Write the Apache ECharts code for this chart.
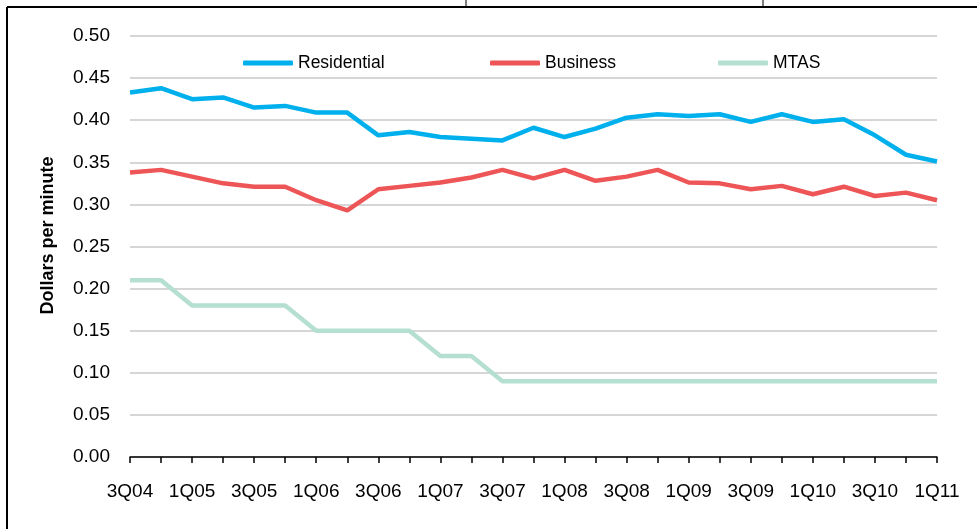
<!DOCTYPE html>
<html>
<head>
<meta charset="utf-8">
<script src="https://cdn.jsdelivr.net/npm/echarts@6/dist/echarts.min.js"></script>
<style>
  html, body { margin: 0; padding: 0; background: #fff; }
  #chart { width: 977px; height: 529px; }
</style>
</head>
<body>
<div id="chart"></div>
<script>
// quarters 3Q04 .. 1Q11
const quarters = [
  '3Q04', '4Q04', '1Q05', '2Q05', '3Q05', '4Q05', '1Q06', '2Q06', '3Q06',
  '4Q06', '1Q07', '2Q07', '3Q07', '4Q07', '1Q08', '2Q08', '3Q08', '4Q08',
  '1Q09', '2Q09', '3Q09', '4Q09', '1Q10', '2Q10', '3Q10', '4Q10', '1Q11'
];

const residential = [
  0.433, 0.438, 0.425, 0.427, 0.415, 0.417, 0.409, 0.409, 0.382,
  0.386, 0.380, 0.378, 0.376, 0.391, 0.380, 0.390, 0.403, 0.407,
  0.405, 0.407, 0.398, 0.407, 0.398, 0.401, 0.382, 0.359, 0.351
];

const business = [
  0.338, 0.341, 0.333, 0.325, 0.321, 0.321, 0.305, 0.293, 0.318,
  0.322, 0.326, 0.332, 0.341, 0.331, 0.341, 0.328, 0.333, 0.341,
  0.326, 0.325, 0.318, 0.322, 0.312, 0.321, 0.310, 0.314, 0.305
];

const mtas = [
  0.21, 0.21, 0.18, 0.18, 0.18, 0.18, 0.15, 0.15, 0.15,
  0.15, 0.12, 0.12, 0.09, 0.09, 0.09, 0.09, 0.09, 0.09,
  0.09, 0.09, 0.09, 0.09, 0.09, 0.09, 0.09, 0.09, 0.09
];

const chart = echarts.init(document.getElementById('chart'));

const font = 'Arial, "Liberation Sans", sans-serif';

function legendAt(name, left) {
  return {
    data: [name],
    left: left,
    top: 54,
    padding: 0,
    icon: 'roundRect',
    itemWidth: 50,
    itemHeight: 5,
    itemGap: 0,
    textStyle: { fontFamily: font, fontSize: 17.5, color: '#000' }
  };
}

chart.setOption({
  animation: false,
  backgroundColor: '#fff',
  // frame of the surrounding figure
  graphic: [
    { type: 'line', shape: { x1: 7, y1: 7, x2: 977, y2: 7 }, style: { stroke: '#000', lineWidth: 2 } },
    { type: 'line', shape: { x1: 7, y1: 7, x2: 7, y2: 529 }, style: { stroke: '#000', lineWidth: 2 } },
    { type: 'line', shape: { x1: 466, y1: 0, x2: 466, y2: 7 }, style: { stroke: '#000', lineWidth: 1 } },
    { type: 'line', shape: { x1: 763, y1: 0, x2: 763, y2: 7 }, style: { stroke: '#000', lineWidth: 1 } }
  ],
  legend: [
    legendAt('Residential', 243),
    legendAt('Business', 490),
    legendAt('MTAS', 718)
  ],
  grid: { left: 130, right: 40, top: 36, bottom: 72 },
  xAxis: {
    type: 'category',
    data: quarters,
    boundaryGap: false,
    axisLine: { lineStyle: { color: '#000', width: 1.5 } },
    axisTick: { show: true, interval: 0, length: 6, lineStyle: { color: '#000', width: 1.5 } },
    axisLabel: {
      interval: 1,
      margin: 25,
      fontFamily: font,
      fontSize: 19,
      color: '#000'
    },
    splitLine: { show: false }
  },
  yAxis: {
    type: 'value',
    min: 0,
    max: 0.5,
    interval: 0.05,
    name: 'Dollars per minute',
    nameLocation: 'middle',
    nameGap: 73,
    nameTextStyle: {
      fontFamily: font, fontSize: 18, fontWeight: 'bold', color: '#000',
      padding: [0, 0, 0, 22]
    },
    axisLine: { show: false },
    axisTick: { show: false },
    axisLabel: {
      margin: 20,
      fontFamily: font,
      fontSize: 19,
      color: '#000',
      formatter: v => v.toFixed(2)
    },
    splitLine: { lineStyle: { color: '#c8c8c8', width: 1.5 } }
  },
  series: [
    {
      name: 'Residential',
      type: 'line',
      data: residential,
      symbol: 'none',
      itemStyle: { color: '#00b0ec' },
      lineStyle: { color: '#00b0ec', width: 4.5 }
    },
    {
      name: 'Business',
      type: 'line',
      data: business,
      symbol: 'none',
      itemStyle: { color: '#ee5557' },
      lineStyle: { color: '#ee5557', width: 4.5 }
    },
    {
      name: 'MTAS',
      type: 'line',
      data: mtas,
      symbol: 'none',
      itemStyle: { color: '#b5dfd0' },
      lineStyle: { color: '#b5dfd0', width: 4.5 }
    }
  ]
});

window.addEventListener('resize', () => chart.resize());
</script>
</body>
</html>
